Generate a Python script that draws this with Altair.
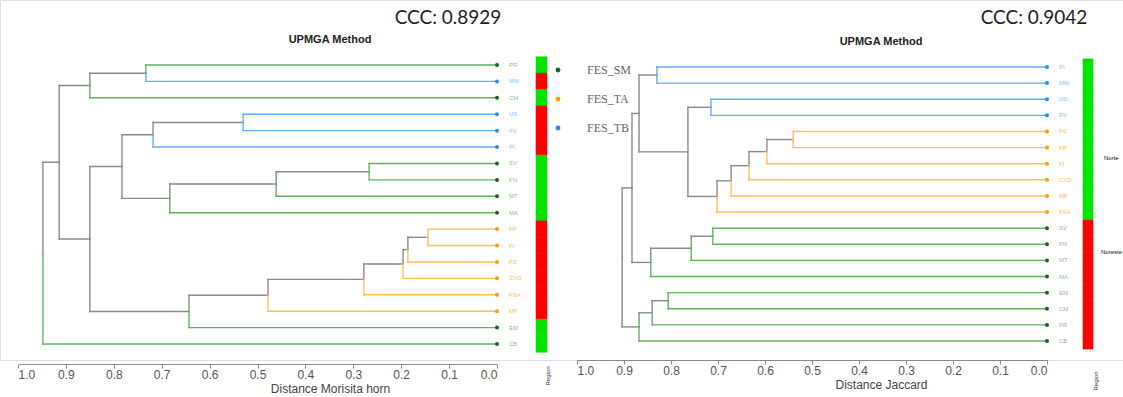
import altair as alt
import pandas as pd

# ---------------- data ----------------
groups = ["FES_SM", "FES_TA", "FES_TB"]
sites = ["PR", "MM", "CM", "US", "FV", "PI", "SV", "FN", "MT", "MA",
         "FP", "FI", "FS", "CVD", "FSA", "MF", "EM", "CB"]
site_group = ["FES_SM", "FES_TB", "FES_SM", "FES_TB", "FES_TB", "FES_TB", "FES_SM", "FES_SM", "FES_SM", "FES_SM",
              "FES_TA", "FES_TA", "FES_TA", "FES_TA", "FES_TA", "FES_TA", "FES_SM", "FES_SM"]
site_region = ["Noreste", "Norte", "Noreste", "Norte", "Norte", "Norte", "Noreste", "Noreste", "Noreste", "Noreste",
               "Norte", "Norte", "Norte", "Norte", "Norte", "Norte", "Noreste", "Noreste"]

# Morisita-Horn UPGMA tree (leaf order top to bottom, merges: child a, child b, height)
left_order = ["PR", "MM", "CM", "US", "FV", "PI", "SV", "FN", "MT", "MA",
              "FP", "FI", "FS", "CVD", "FSA", "MF", "EM", "CB"]
left_merges = [("PR", "MM", 0.733), ("m0", "CM", 0.850), ("US", "FV", 0.530), ("m2", "PI", 0.718),
               ("SV", "FN", 0.267), ("m4", "MT", 0.461), ("m5", "MA", 0.683), ("m3", "m6", 0.783),
               ("FP", "FI", 0.144), ("m8", "FS", 0.186), ("m9", "CVD", 0.196), ("m10", "FSA", 0.278),
               ("m11", "MF", 0.478), ("m12", "EM", 0.643), ("m7", "m13", 0.850), ("m1", "m14", 0.914),
               ("m15", "CB", 0.948)]

# Jaccard UPGMA tree
right_order = ["PI", "MM", "US", "FV", "FS", "FP", "FI", "CVD", "MF", "FSA",
               "SV", "FN", "MT", "MA", "EM", "CM", "PR", "CB"]
right_merges = [("PI", "MM", 0.830), ("US", "FV", 0.715), ("FS", "FP", 0.540), ("m2", "FI", 0.596),
                ("m3", "CVD", 0.634), ("m4", "MF", 0.672), ("m5", "FSA", 0.702), ("m1", "m6", 0.764),
                ("m0", "m7", 0.868), ("SV", "FN", 0.711), ("m9", "MT", 0.757), ("m10", "MA", 0.843),
                ("m8", "m11", 0.883), ("EM", "CM", 0.806), ("m13", "PR", 0.840), ("m14", "CB", 0.868),
                ("m12", "m15", 0.904)]

axis_ticks = [1.0, 0.9, 0.8, 0.7, 0.6, 0.5, 0.4, 0.3, 0.2, 0.1, 0.0]

# ---------------- styles ----------------
GRAY = "#8a8a8a"
line_col = {"FES_SM": "#62b262", "FES_TA": "#ffc152", "FES_TB": "#62aeff"}
dot_col = ["#1d651d", "#ff9d00", "#2a8cff"]
label_col = {"FES_SM": "#86c286", "FES_TA": "#ffb95a", "FES_TB": "#86bdff"}
grp = dict(zip(sites, site_group))
reg = dict(zip(sites, site_region))


def build(order, merges):
    pos = {s: i for i, s in enumerate(order)}
    hgt = {s: 0.0 for s in order}
    segs = []
    for k, (a, b, h) in enumerate(merges):
        name = f"m{k}"
        y = (pos[a] + pos[b]) / 2
        for c in (a, b):
            col = line_col[grp[c]] if c in grp else GRAY
            z = 1 if c in grp else 0
            segs.append(dict(x=h, x2=h, y=y, y2=pos[c], col=col, z=z))
            segs.append(dict(x=h, x2=hgt[c], y=pos[c], y2=pos[c], col=col, z=z))
        pos[name] = y
        hgt[name] = h
    seg_df = pd.DataFrame(segs).sort_values("z")
    leaf_df = pd.DataFrame({
        "site": order,
        "i": list(range(len(order))),
        "lo": [i - 0.5 for i in range(len(order))],
        "hi": [i + 0.5 for i in range(len(order))],
        "group": [grp[s] for s in order],
        "region": [reg[s] for s in order],
        "x": [0.0] * len(order),
        "lcol": [label_col[grp[s]] for s in order],
    })
    return seg_df, leaf_df


def panel(order, merges, xrange, yrange, title, axis_offset, title_x, region_colors, bar_off):
    seg_df, leaf_df = build(order, merges)
    xs = alt.Scale(domain=[1, 0], range=xrange, nice=False, zero=False)
    ys = alt.Scale(domain=[0, len(order) - 1], range=yrange, nice=False, zero=False)
    axis = alt.Axis(values=axis_ticks, format=".1f", orient="bottom", grid=False,
                    domainColor=GRAY, tickColor=GRAY, tickSize=4, labelPadding=1,
                    labelFontSize=12, labelColor="#555", labelFont="Liberation Sans",
                    title=title, titleX=title_x, titleY=28, titleAlign="center",
                    titleBaseline="alphabetic", titleFontSize=12, titleFontWeight="normal",
                    titleColor="#444", titleFont="Liberation Sans", offset=axis_offset)
    X = lambda f: alt.X(f, scale=xs, axis=axis, title=title)
    Y = lambda f: alt.Y(f, scale=ys, axis=None)
    segs = alt.Chart(seg_df).mark_rule(strokeWidth=1.4, strokeCap="square").encode(
        x=X("x:Q"), x2="x2:Q", y=Y("y:Q"), y2="y2:Q",
        color=alt.Color("col:N", scale=None))
    dots = alt.Chart(leaf_df).mark_circle(size=16, opacity=1).encode(
        x=X("x:Q"), y=Y("i:Q"),
        color=alt.Color("group:N", scale=alt.Scale(domain=groups, range=dot_col),
                        legend=alt.Legend(title=None, orient="none", legendX=552, legendY=64,
                                          symbolType="circle", symbolSize=24, symbolStrokeWidth=0,
                                          labelFont="Liberation Serif", labelFontSize=12,
                                          labelColor="#666", labelOffset=23, rowPadding=17,
                                          padding=0)))
    labels = alt.Chart(leaf_df).mark_text(align="left", baseline="middle", dx=12,
                                          fontSize=6, font="Liberation Sans").encode(
        x=X("x:Q"), y=Y("i:Q"), text="site:N",
        color=alt.Color("lcol:N", scale=None))
    rs = alt.Scale(domain=["Norte", "Noreste"], range=region_colors)
    bars = alt.Chart(leaf_df).mark_rect(xOffset=bar_off[0], x2Offset=bar_off[1], strokeWidth=0.6).encode(
        x=X("x:Q"), x2="x:Q", y=Y("lo:Q"), y2="hi:Q",
        fill=alt.Fill("region:N", scale=rs, legend=None),
        stroke=alt.Stroke("region:N", scale=rs, legend=None))
    return alt.layer(segs, bars, dots, labels).resolve_scale(fill="independent", stroke="independent")


left = panel(left_order, left_merges, [18, 497], [65, 344], "Distance Morisita horn", 4, 330,
             ["#ff0000", "#00e400"], (39, 50))
right = panel(right_order, right_merges, [577, 1047], [67, 341], "Distance Jaccard", 0, 881,
              ["#00e400", "#ff0000"], (36, 46))

one = pd.DataFrame({"a": [0]})


def note(text, x, y, size, weight="normal", font="Liberation Sans", color="#222", angle=0, align="center"):
    return alt.Chart(one).mark_text(text=text, fontSize=size, fontWeight=weight, font=font,
                                    color=color, angle=angle, align=align, baseline="middle").encode(
        x=alt.value(x), y=alt.value(y))


notes = [
    note("UPMGA Method", 330, 40, 11, "bold"),
    note("UPMGA Method", 881, 42, 11, "bold"),
    note("CCC: 0.8929", 448, 18, 19, font="Lato"),
    note("CCC: 0.9042", 1034, 18, 19, font="Lato"),
    note("Region", 548, 376, 6, angle=270, color="#333"),
    note("Region", 1096, 381, 6, angle=270, color="#333"),
    note("Norte", 1104, 158, 6, align="left", color="#111"),
    note("Noreste", 1101, 252, 6, align="left", color="#111"),
]

chart = alt.layer(left, right, *notes).resolve_scale(
    x="independent", y="independent", fill="independent", stroke="independent"
).resolve_axis(x="independent").properties(
    width=1123, height=360,
    autosize=alt.AutoSizeParams(type="none"),
    padding={"left": 0, "right": 0, "top": 0, "bottom": 37},
).configure_view(strokeWidth=0).configure(background="white")

chart.save("out.html", embed_options={"renderer": "svg", "actions": False})
